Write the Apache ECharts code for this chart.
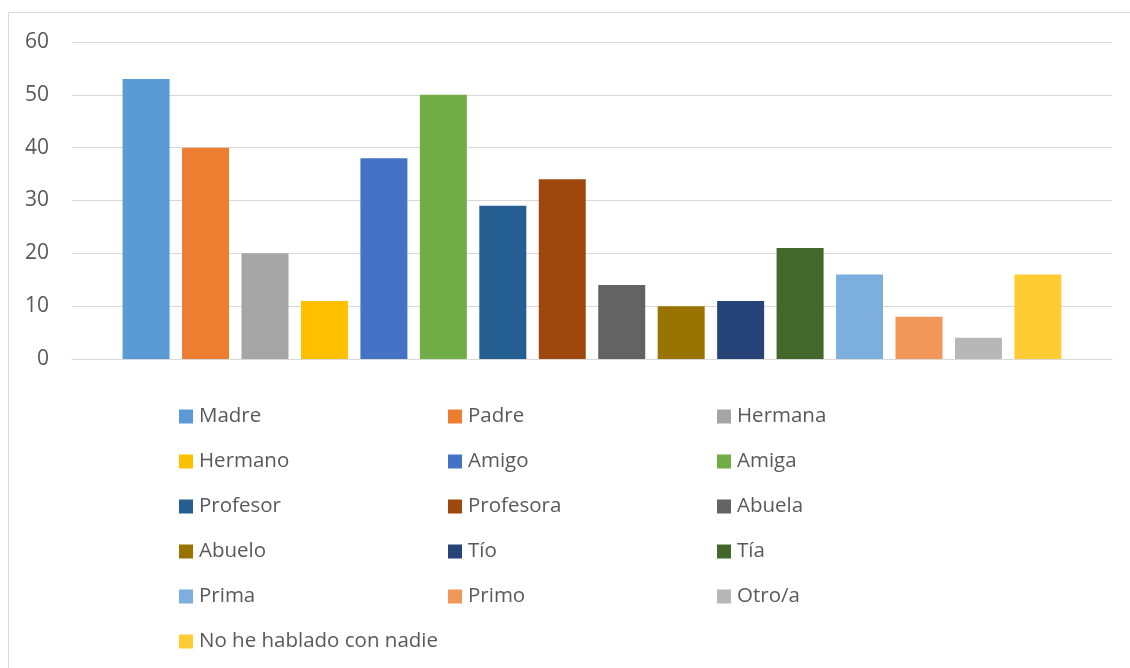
<!DOCTYPE html>
<html>
<head>
<meta charset="utf-8">
<script src="https://cdn.jsdelivr.net/npm/echarts@6/dist/echarts.min.js"></script>
<style>
html,body{margin:0;padding:0;background:#fff;}
#chart{width:1130px;height:668px;}
</style>
</head>
<body>
<div id="chart"></div>
<script>
const names = ['Madre','Padre','Hermana','Hermano','Amigo','Amiga','Profesor','Profesora','Abuela','Abuelo','Tío','Tía','Prima','Primo','Otro/a','No he hablado con nadie'];
const values = [53,40,20,11,38,50,29,34,14,10,11,21,16,8,4,16];
const colors = ['#5B9BD5','#ED7D31','#A5A5A5','#FFC000','#4472C4','#70AD47','#255E91','#9E480E','#636363','#997300','#264478','#43682B','#7CAFDD','#F1975A','#B7B7B7','#FFCD33'];
const yTicks = {min:0, max:60, interval:10};

const chart = echarts.init(document.getElementById('chart'), null, {renderer:'canvas'});
const font = "'Open Sans', sans-serif";

const series = names.map((n,i)=>({
  name:n, type:'bar', data:[values[i]],
  barWidth:47, barGap:'26.5%',
  itemStyle:{color:colors[i]},
  animation:false
}));

const colX = [179, 448, 717];
const legends = colX.map((x,c)=>({
  orient:'vertical', left:x, top:406, padding:0, height:400,
  itemWidth:14, itemHeight:14, itemGap:24,
  icon:'rect',
  textStyle:{fontFamily:font, fontSize:20.5, lineHeight:14, color:'#595959', padding:[0,0,0,1]},
  data:names.filter((_,i)=>i%3===c),
  selectedMode:false
}));

chart.setOption({
  backgroundColor:'#fff',
  animation:false,
  graphic:[{type:'rect', shape:{x:8.5,y:12.5,width:1200,height:700}, style:{fill:'none', stroke:'#d9d9d9', lineWidth:1}, silent:true}],
  grid:{left:72, right:18, top:42, bottom:309, containLabel:false},
  xAxis:{type:'category', data:[''], axisLine:{show:true, lineStyle:{color:'#d9d9d9', width:1}}, axisTick:{show:false}, axisLabel:{show:false}},
  yAxis:{type:'value', min:yTicks.min, max:yTicks.max, interval:yTicks.interval,
    axisLine:{show:false}, axisTick:{show:false},
    axisLabel:{fontFamily:font, fontSize:21, color:'#595959', margin:23},
    splitLine:{lineStyle:{color:'#d9d9d9', width:1}}},
  legend:legends,
  series:series
});
</script>
</body>
</html>
